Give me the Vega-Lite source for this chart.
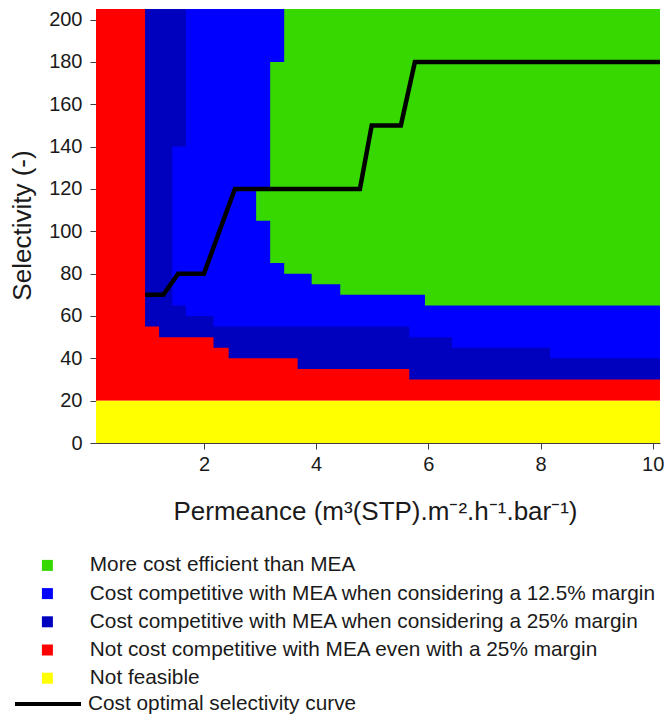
{
  "$schema": "https://vega.github.io/schema/vega-lite/v6.json",
  "width": 564,
  "height": 434,
  "autosize": "none",
  "padding": {"left": 96, "top": 9, "right": 5, "bottom": 274},
  "config": {
    "view": {"stroke": null},
    "font": "Liberation Sans",
    "axis": {
      "grid": false,
      "domainColor": "#404040",
      "tickColor": "#404040",
      "labelColor": "#1a1a1a",
      "titleColor": "#1a1a1a",
      "labelFont": "Liberation Sans",
      "titleFont": "Liberation Sans",
      "labelFontSize": 20,
      "tickSize": 6,
      "titleFontWeight": "normal"
    },
    "legend": {
      "labelFont": "Liberation Sans",
      "labelFontSize": 20.8,
      "labelColor": "#1a1a1a",
      "labelLimit": 0,
      "padding": 0
    }
  },
  "datasets": {
    "regions": [
      {"cat": "Not cost competitive with MEA even with a 25% margin", "x": 0.075, "x2": 10.13, "y": 20, "y2": 205},
      {"cat": "Not feasible", "x": 0.075, "x2": 10.13, "y": 0, "y2": 20},
      {"cat": "Cost competitive with MEA when considering a 25% margin", "x": 0.95, "x2": 10.13, "y": 55, "y2": 205},
      {"cat": "Cost competitive with MEA when considering a 25% margin", "x": 1.2, "x2": 10.13, "y": 50, "y2": 205},
      {"cat": "Cost competitive with MEA when considering a 25% margin", "x": 2.17, "x2": 10.13, "y": 45, "y2": 205},
      {"cat": "Cost competitive with MEA when considering a 25% margin", "x": 2.44, "x2": 10.13, "y": 40, "y2": 205},
      {"cat": "Cost competitive with MEA when considering a 25% margin", "x": 3.67, "x2": 10.13, "y": 35, "y2": 205},
      {"cat": "Cost competitive with MEA when considering a 25% margin", "x": 5.66, "x2": 10.13, "y": 30, "y2": 205},
      {"cat": "Cost competitive with MEA when considering a 12.5% margin", "x": 8.17, "x2": 10.13, "y": 40, "y2": 205},
      {"cat": "Cost competitive with MEA when considering a 12.5% margin", "x": 6.42, "x2": 10.13, "y": 45, "y2": 205},
      {"cat": "Cost competitive with MEA when considering a 12.5% margin", "x": 5.66, "x2": 10.13, "y": 50, "y2": 205},
      {"cat": "Cost competitive with MEA when considering a 12.5% margin", "x": 2.17, "x2": 10.13, "y": 55, "y2": 205},
      {"cat": "Cost competitive with MEA when considering a 12.5% margin", "x": 1.68, "x2": 10.13, "y": 60, "y2": 205},
      {"cat": "Cost competitive with MEA when considering a 12.5% margin", "x": 1.435, "x2": 10.13, "y": 65, "y2": 140},
      {"cat": "More cost efficient than MEA", "x": 5.94, "x2": 10.13, "y": 65, "y2": 205},
      {"cat": "More cost efficient than MEA", "x": 4.43, "x2": 10.13, "y": 70, "y2": 205},
      {"cat": "More cost efficient than MEA", "x": 3.92, "x2": 10.13, "y": 75, "y2": 205},
      {"cat": "More cost efficient than MEA", "x": 3.43, "x2": 10.13, "y": 80, "y2": 205},
      {"cat": "More cost efficient than MEA", "x": 3.18, "x2": 10.13, "y": 85, "y2": 180},
      {"cat": "More cost efficient than MEA", "x": 2.93, "x2": 10.13, "y": 105, "y2": 120}
    ],
    "curve": [
      {"series": "Cost optimal selectivity curve", "x": 0.95, "y": 70},
      {"series": "Cost optimal selectivity curve", "x": 1.275, "y": 70},
      {"series": "Cost optimal selectivity curve", "x": 1.54, "y": 80},
      {"series": "Cost optimal selectivity curve", "x": 2.0, "y": 80},
      {"series": "Cost optimal selectivity curve", "x": 2.55, "y": 120},
      {"series": "Cost optimal selectivity curve", "x": 4.78, "y": 120},
      {"series": "Cost optimal selectivity curve", "x": 4.99, "y": 150},
      {"series": "Cost optimal selectivity curve", "x": 5.51, "y": 150},
      {"series": "Cost optimal selectivity curve", "x": 5.76, "y": 180},
      {"series": "Cost optimal selectivity curve", "x": 10.13, "y": 180}
    ]
  },
  "layer": [
    {
      "data": {"name": "regions"},
      "mark": {"type": "rect", "strokeWidth": 0},
      "encoding": {
        "x": {
          "field": "x",
          "type": "quantitative",
          "scale": {"domain": [0.075, 10.13], "nice": false, "zero": false},
          "axis": {
            "values": [2, 4, 6, 8, 10],
            "format": "d",
            "labelPadding": 5,
            "title": "Permeance (m³(STP).m⁻².h⁻¹.bar⁻¹)",
            "titleFontSize": 26,
            "titleBaseline": "alphabetic",
            "titleX": 279,
            "titleY": 76
          }
        },
        "x2": {"field": "x2"},
        "y": {
          "field": "y",
          "type": "quantitative",
          "scale": {"domain": [0, 205], "nice": false},
          "axis": {
            "values": [0, 20, 40, 60, 80, 100, 120, 140, 160, 180, 200],
            "format": "d",
            "labelPadding": 8,
            "title": "Selectivity (-)",
            "titleFontSize": 26,
            "titleAngle": -90,
            "titleBaseline": "alphabetic",
            "titleX": -66,
            "titleY": 216
          }
        },
        "y2": {"field": "y2"},
        "color": {
          "field": "cat",
          "type": "nominal",
          "scale": {
            "domain": [
              "More cost efficient than MEA",
              "Cost competitive with MEA when considering a 12.5% margin",
              "Cost competitive with MEA when considering a 25% margin",
              "Not cost competitive with MEA even with a 25% margin",
              "Not feasible"
            ],
            "range": ["#36d800", "#0000ff", "#0000bf", "#ff0000", "#ffff00"]
          },
          "legend": {
            "title": null,
            "orient": "none",
            "direction": "vertical",
            "legendX": -59,
            "legendY": 546,
            "symbolType": "square",
            "symbolSize": 121,
            "symbolStrokeWidth": 0,
            "symbolOpacity": 1,
            "labelOffset": 32,
            "rowPadding": 6.2
          }
        }
      }
    },
    {
      "data": {"name": "curve"},
      "mark": {"type": "line", "strokeWidth": 4.5, "strokeJoin": "miter", "strokeCap": "butt"},
      "encoding": {
        "x": {"field": "x", "type": "quantitative"},
        "y": {"field": "y", "type": "quantitative"},
        "stroke": {
          "field": "series",
          "type": "nominal",
          "scale": {"range": ["#000000"]},
          "legend": {
            "title": null,
            "orient": "none",
            "legendX": -83,
            "legendY": 660,
            "symbolType": "stroke",
            "symbolSize": 4356,
            "symbolStrokeWidth": 4,
            "labelOffset": 5
          }
        }
      }
    }
  ]
}
